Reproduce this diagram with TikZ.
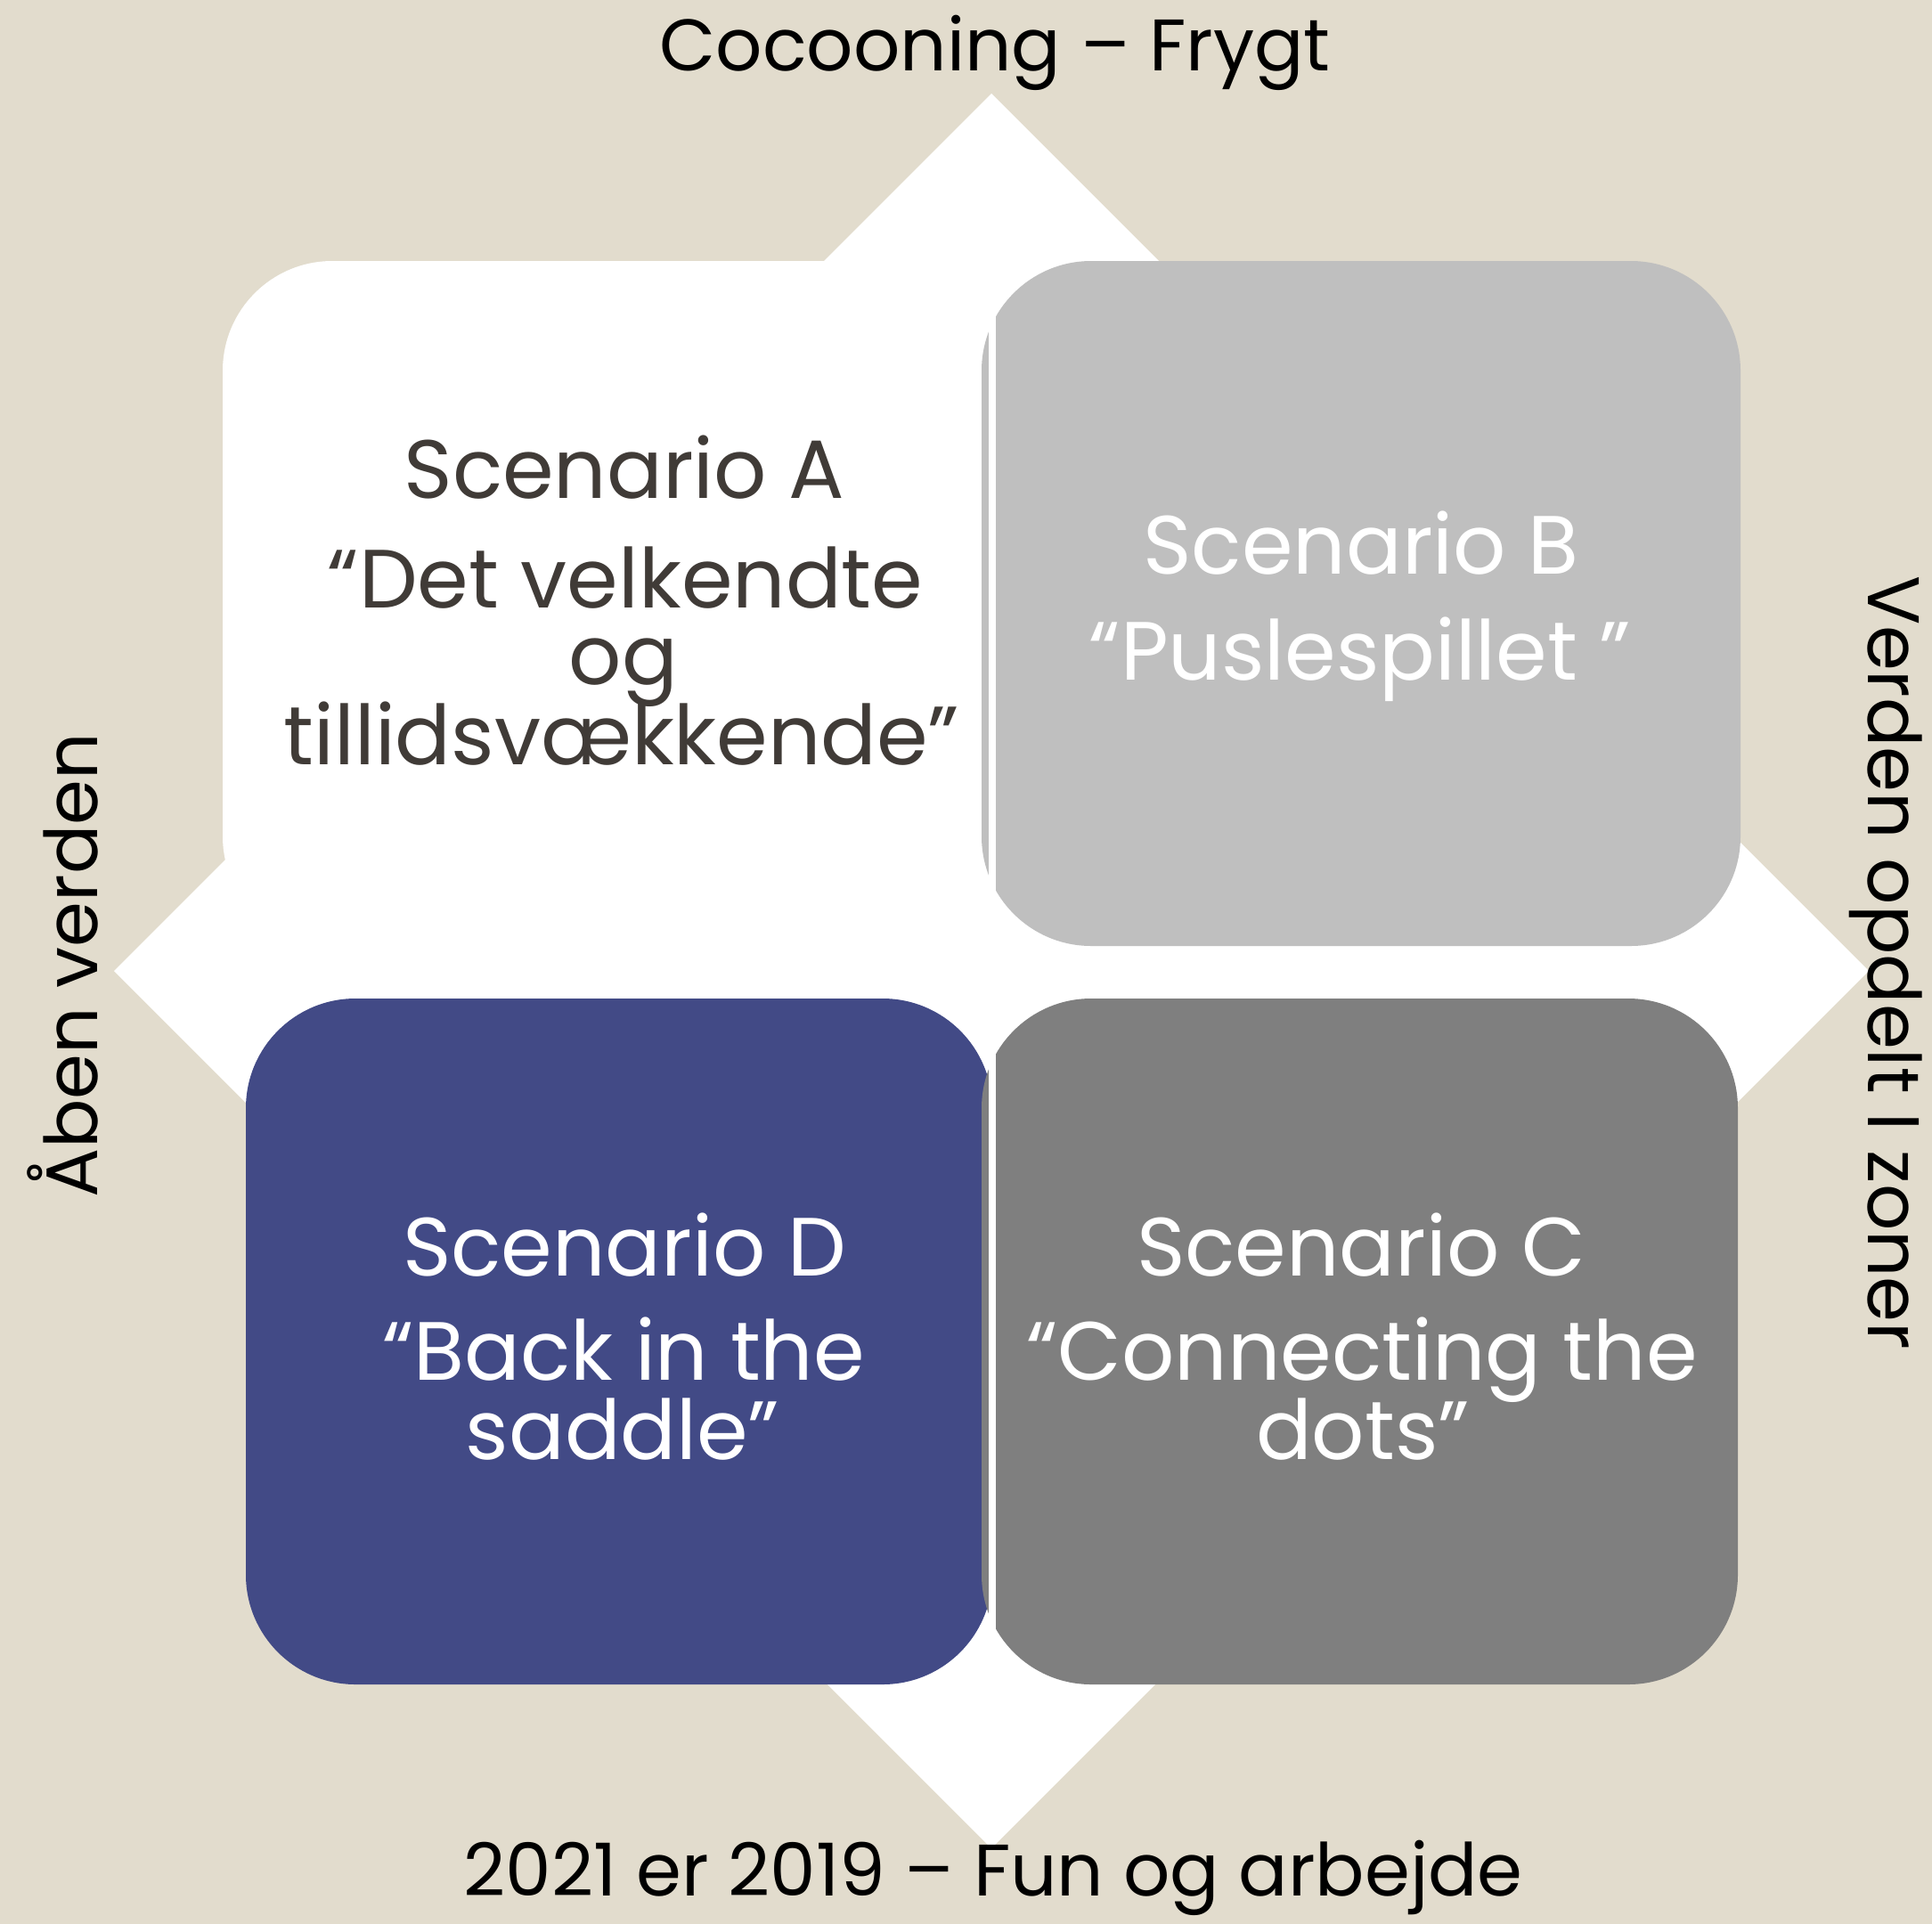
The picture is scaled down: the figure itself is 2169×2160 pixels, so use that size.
\documentclass[tikz,border=0pt]{standalone}
\usepackage{fontspec}
\setmainfont{Poppins}
\usepackage{tikz}
\usepackage{xcolor}
\definecolor{sand}{RGB}{226,220,205}
\definecolor{navy}{RGB}{66,74,134}
\definecolor{lightgrey}{RGB}{191,191,191}
\definecolor{darkgrey}{RGB}{127,127,127}
\definecolor{ink}{RGB}{64,59,55}

\begin{document}
\begin{tikzpicture}[x=0.01cm, y=-0.01cm,
    axis/.style={font=\fontsize{23.3}{28}\selectfont, text=black, inner sep=0pt, anchor=base},
    scen/.style={font=\fontsize{26.4}{32}\selectfont, inner sep=0pt, anchor=base},
    quad/.style={rounded corners=1.23cm}]
    % Background
    \fill[sand] (0,0) rectangle (2169,2160);
    \useasboundingbox (0,0) rectangle (2169,2160);

    % Diamond behind the quadrants
    \fill[white] (1113,105) -- (2098,1090) -- (1113,2075) -- (128,1090) -- cycle;

    % Quadrants
    \fill[white, quad] (250,293) rectangle (1114,1062);
    \fill[navy, quad] (276,1121) rectangle (1114,1891);
    \fill[lightgrey, quad] (1102,293) rectangle (1954,1062);
    \fill[darkgrey, quad] (1102,1121) rectangle (1951,1891);
    \fill[white] (1110,293) rectangle (1118,1891);

    % Axis labels
    \node[axis] (top) at (1117,79) {Cocooning – Frygt};
    \node[axis] (bottom) at (1115,2128) {2021 er 2019 – Fun og arbejde};
    \node[axis, rotate=90] (left) at (110,1084) {Åben verden};
    \node[axis, rotate=-90] (right) at (2097,1081) {Verden opdelt I zoner};

    % Scenario texts
    \foreach \n/\x/\y/\c/\t in {
        a1/701/559/ink/Scenario A, a2/702/682/ink/“Det velkendte,
        a3/700/768/ink/og, a4/698/858/ink/tillidsvækkende”,
        b1/1528/644/white/Scenario B, b2/1527/763/white/“Puslespillet ”,
        d1/701/1432/white/Scenario D, d2/700/1549/white/“Back in the,
        d3/699/1638/white/saddle”,
        c1/1528/1432/white/Scenario C, c2/1529/1549/white/“Connecting the,
        c3/1530/1638/white/dots”}
        \node[scen, text=\c] (\n) at (\x,\y) {\t};
\end{tikzpicture}
\end{document}
